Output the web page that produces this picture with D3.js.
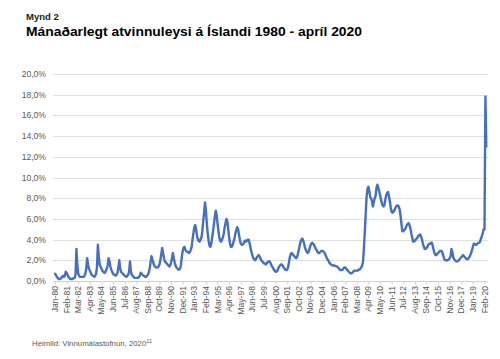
<!DOCTYPE html>
<html>
<head>
<meta charset="utf-8">
<script src="https://cdn.jsdelivr.net/npm/d3@7.9.0/dist/d3.min.js"></script>
<style>
  html, body { margin: 0; padding: 0; background: #fff; }
  svg { display: block; font-family: 'Liberation Sans', Arial, sans-serif; }
</style>
</head>
<body>
<svg id="chart" width="500" height="359"></svg>
<script>
// Monthly unemployment rate (%), Jan 1980 - Apr 2020, one row per year
const rates = [
  0.7, 0.6, 0.4, 0.3, 0.2, 0.2, 0.2, 0.3, 0.4, 0.5, 0.4, 0.5,   // 1980
  0.9, 0.8, 0.6, 0.4, 0.3, 0.2, 0.2, 0.2, 0.2, 0.3, 0.3, 0.6,   // 1981
  3.1, 1.5, 0.7, 0.5, 0.4, 0.4, 0.4, 0.4, 0.4, 0.5, 0.7, 1.2,   // 1982
  2.2, 1.6, 1.2, 1.0, 0.8, 0.6, 0.5, 0.5, 0.4, 0.5, 0.7, 1.3,   // 1983
  3.5, 2.4, 1.6, 1.4, 1.2, 1.0, 0.9, 0.8, 0.8, 1.0, 1.2, 1.5,   // 1984
  2.2, 1.9, 1.4, 1.1, 0.9, 0.7, 0.6, 0.6, 0.5, 0.6, 0.8, 1.3,   // 1985
  2.0, 1.2, 0.9, 0.8, 0.7, 0.6, 0.5, 0.5, 0.4, 0.5, 0.6, 0.9,   // 1986
  1.9, 0.9, 0.6, 0.5, 0.4, 0.3, 0.3, 0.3, 0.3, 0.3, 0.4, 0.5,   // 1987
  0.8, 0.7, 0.6, 0.5, 0.5, 0.4, 0.4, 0.5, 0.6, 0.8, 1.2, 1.8,   // 1988
  2.4, 2.1, 1.8, 1.5, 1.4, 1.3, 1.3, 1.3, 1.4, 1.6, 2.0, 2.6,   // 1989
  3.2, 2.7, 2.2, 1.9, 1.8, 1.7, 1.6, 1.5, 1.4, 1.5, 1.8, 2.2,   // 1990
  2.7, 2.2, 1.8, 1.5, 1.3, 1.2, 1.1, 1.1, 1.2, 1.5, 2.3, 2.9,   // 1991
  3.2, 3.3, 3.0, 2.9, 2.8, 2.8, 2.7, 2.8, 3.0, 3.3, 4.0, 4.6,   // 1992
  5.2, 5.4, 5.0, 4.4, 4.0, 3.9, 3.8, 4.0, 4.2, 4.8, 5.8, 6.6,   // 1993
  7.6, 6.8, 5.6, 4.6, 3.9, 3.4, 3.3, 3.6, 4.2, 4.8, 5.5, 6.2,   // 1994
  6.8, 6.4, 5.6, 4.9, 4.2, 3.9, 3.8, 4.0, 4.2, 4.6, 5.2, 5.6,   // 1995
  6.0, 5.8, 5.0, 4.2, 3.6, 3.3, 3.3, 3.5, 3.8, 4.1, 4.6, 4.9,   // 1996
  5.2, 5.0, 4.5, 4.0, 3.6, 3.5, 3.5, 3.6, 3.8, 3.9, 3.8, 3.9,   // 1997
  4.0, 4.0, 3.6, 3.2, 2.8, 2.5, 2.2, 2.1, 2.0, 2.1, 2.3, 2.4,   // 1998
  2.5, 2.4, 2.2, 2.0, 1.9, 1.8, 1.7, 1.7, 1.6, 1.7, 1.8, 1.9,   // 1999
  1.9, 1.8, 1.6, 1.4, 1.3, 1.1, 1.0, 0.9, 0.9, 1.0, 1.2, 1.4,   // 2000
  1.5, 1.6, 1.6, 1.5, 1.3, 1.2, 1.1, 1.05, 1.1, 1.3, 1.8, 2.3,  // 2001
  2.6, 2.7, 2.6, 2.5, 2.4, 2.3, 2.2, 2.3, 2.6, 3.0, 3.4, 3.8,   // 2002
  4.0, 4.1, 3.9, 3.6, 3.2, 3.0, 2.8, 2.7, 2.8, 3.1, 3.4, 3.6,   // 2003
  3.7, 3.6, 3.5, 3.3, 3.1, 3.0, 2.8, 2.7, 2.7, 2.8, 2.9, 2.9,   // 2004
  2.9, 2.8, 2.7, 2.5, 2.3, 2.1, 2.0, 1.8, 1.7, 1.6, 1.55, 1.5,  // 2005
  1.5, 1.5, 1.45, 1.4, 1.4, 1.3, 1.2, 1.1, 1.05, 1.05, 1.1, 1.2, // 2006
  1.3, 1.3, 1.2, 1.1, 1.0, 0.9, 0.8, 0.75, 0.75, 0.8, 0.9, 1.0, // 2007
  1.0, 1.0, 1.0, 1.0, 1.1, 1.1, 1.2, 1.3, 1.5, 1.9, 3.3, 4.8,   // 2008
  6.6, 8.2, 8.9, 9.1, 8.7, 8.1, 8.0, 7.7, 7.2, 7.6, 8.0, 8.2,   // 2009
  9.0, 9.3, 9.0, 8.7, 8.3, 7.9, 7.5, 7.3, 7.2, 7.4, 7.9, 8.3,   // 2010
  8.5, 8.6, 8.2, 7.7, 7.1, 6.7, 6.6, 6.7, 6.8, 7.0, 7.2, 7.3,   // 2011
  7.3, 7.2, 6.9, 6.3, 5.5, 4.8, 4.8, 4.9, 5.0, 5.2, 5.4, 5.5,   // 2012
  5.6, 5.4, 5.1, 4.6, 4.2, 3.8, 3.8, 3.9, 4.0, 4.1, 4.2, 4.4,   // 2013
  4.4, 4.5, 4.3, 4.0, 3.6, 3.3, 3.1, 3.1, 3.2, 3.3, 3.5, 3.6,   // 2014
  3.6, 3.7, 3.7, 3.4, 3.0, 2.7, 2.5, 2.5, 2.6, 2.7, 2.8, 2.9,   // 2015
  2.9, 2.9, 2.7, 2.4, 2.1, 2.0, 2.0, 2.0, 2.0, 2.1, 2.2, 2.4,   // 2016
  3.1, 2.8, 2.3, 2.1, 2.0, 1.9, 1.9, 1.9, 2.0, 2.1, 2.2, 2.3,   // 2017
  2.4, 2.5, 2.4, 2.3, 2.2, 2.1, 2.1, 2.2, 2.3, 2.5, 2.7, 3.0,   // 2018
  3.3, 3.6, 3.6, 3.5, 3.5, 3.6, 3.7, 3.7, 3.8, 4.1, 4.3, 4.6,   // 2019
  5.0, 5.0, 17.8, 13.0                                          // 2020
];

// category labels shown every 13th month
const xLabels = [
  'Jan-80', 'Feb-81', 'Mar-82', 'Apr-83', 'May-84', 'Jun-85', 'Jul-86', 'Aug-87',
  'Sep-88', 'Oct-89', 'Nov-90', 'Dec-91', 'Jan-93', 'Feb-94', 'Mar-95', 'Apr-96',
  'May-97', 'Jun-98', 'Jul-99', 'Aug-00', 'Sep-01', 'Oct-02', 'Nov-03', 'Dec-04',
  'Jan-06', 'Feb-07', 'Mar-08', 'Apr-09', 'May-10', 'Jun-11', 'Jul-12', 'Aug-13',
  'Sep-14', 'Oct-15', 'Nov-16', 'Dec-17', 'Jan-19', 'Feb-20'
];
const labelStep = 13;

const yTicks = [0, 2, 4, 6, 8, 10, 12, 14, 16, 18, 20];

const svg = d3.select('#chart');

const plotLeft = 53;
const plotRight = 488;

const x = d3.scaleLinear().domain([0, 483]).range([55, 486.3]);
const y = d3.scaleLinear().domain([0, 20]).range([281, 74]);

// titles
svg.append('text')
  .attr('x', 26).attr('y', 20)
  .attr('font-size', 9.5).attr('font-weight', 'bold').attr('fill', '#1a1a1a')
  .text('Mynd 2');

svg.append('text')
  .attr('x', 26).attr('y', 35.5)
  .attr('font-size', 13.6).attr('font-weight', 'bold').attr('fill', '#000')
  .attr('textLength', 336).attr('lengthAdjust', 'spacingAndGlyphs')
  .text('Mánaðarlegt  atvinnuleysi  á  Íslandi  1980 - apríl 2020');

// gridlines + y labels
const fmt = (d) => d.toFixed(1).replace('.', ',') + '%';

svg.append('g')
  .selectAll('line')
  .data(yTicks)
  .join('line')
  .attr('x1', plotLeft).attr('x2', plotRight)
  .attr('y1', (d) => Math.round(y(d)) + 0.5)
  .attr('y2', (d) => Math.round(y(d)) + 0.5)
  .attr('stroke', (d) => (d === 0 ? '#d0d0d0' : '#e0e0e0'))
  .attr('stroke-width', 1);

svg.append('g')
  .selectAll('text')
  .data(yTicks)
  .join('text')
  .attr('x', 46)
  .attr('y', (d) => y(d) + 3)
  .attr('text-anchor', 'end')
  .attr('font-size', 8.6)
  .attr('fill', '#595959')
  .text(fmt);

// x ticks and labels
const xAxis = svg.append('g');
xAxis.selectAll('line')
  .data(xLabels)
  .join('line')
  .attr('x1', (d, i) => x(i * labelStep) + 0.5)
  .attr('x2', (d, i) => x(i * labelStep) + 0.5)
  .attr('y1', 281.5).attr('y2', 284.5)
  .attr('stroke', '#d0d0d0');

xAxis.selectAll('text')
  .data(xLabels)
  .join('text')
  .attr('transform', (d, i) => `translate(${x(i * labelStep) + 3},286) rotate(-90)`)
  .attr('text-anchor', 'end')
  .attr('font-size', 8.6)
  .attr('fill', '#595959')
  .text((d) => d);

// line
const line = d3.line()
  .x((d, i) => x(i))
  .y((d) => y(d));

svg.append('path')
  .datum(rates)
  .attr('d', line)
  .attr('fill', 'none')
  .attr('stroke', '#4470bf')
  .attr('stroke-width', 2.4)
  .attr('stroke-linejoin', 'round')
  .attr('stroke-linecap', 'round');

// source
const src = svg.append('text')
  .attr('x', 32).attr('y', 346)
  .attr('font-size', 7.8)
  .attr('fill', '#595959');
src.append('tspan').text('Heimild: Vinnumálastofnun, 2020');
src.append('tspan').attr('dy', -3.5).attr('font-size', 5.5).text('11');
</script>
</body>
</html>
